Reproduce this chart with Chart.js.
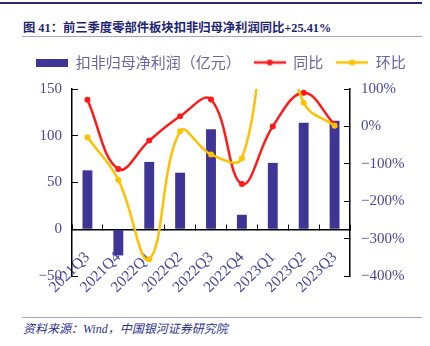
<!DOCTYPE html>
<html>
<head>
<meta charset="utf-8">
<script src="https://cdn.jsdelivr.net/npm/chart.js@4/dist/chart.umd.min.js"></script>
<style>
    html, body { margin: 0; padding: 0; background: #fff; }
    body { width: 430px; height: 346px; position: relative; overflow: hidden; }
    .topline { position: absolute; left: 0; top: 2px; width: 422px; height: 2px; background: #2a2a72; }
    .title { position: absolute; left: 23px; top: 18px; line-height: 16px; font: bold 12.3px "Liberation Serif", "Noto Sans CJK SC", serif; color: #1d2570; white-space: nowrap; }
    .rule { position: absolute; left: 22px; width: 400px; height: 1px; background: #a3a3d3; }
    .source { position: absolute; left: 23px; top: 319px; line-height: 16px; font: italic 12px "Liberation Serif", "Noto Sans CJK SC", serif; color: #2d318c; white-space: nowrap; }
    .chart-box { position: absolute; left: 0; top: 40px; width: 430px; height: 275px; }
</style>
</head>
<body>
<div class="topline"></div>
<div class="title">图 41：前三季度零部件板块扣非归母净利润同比+25.41%</div>
<div class="rule" style="top:36px"></div>
<div class="chart-box"><canvas id="profitChart"></canvas></div>
<div class="rule" style="top:317px"></div>
<div class="source">资料来源：Wind，中国银河证券研究院</div>

<script>
// données
const quarters = ['2021Q3', '2021Q4', '2022Q1', '2022Q2', '2022Q3', '2022Q4', '2023Q1', '2023Q2', '2023Q3'];
const profit = [63, -28, 72, 60.5, 107, 15.5, 71, 114, 116];   // 亿元
const yoy = [71, -114, -38, 27, 72, -154, 0, 90, 5];           // %
const qoq = [-29, -143, -355, -13, -75, -85, 363, 63, 2];      // %

const BAR = '#3f3596';
const RED = '#ff1a1a';
const GOLD = '#ffc000';
const TICK = '#4a479c';

function minus(v) {
    return String(v).replace('-', '\u2212');
}

// petites icônes pour la légende
function barIcon() {
    const c = document.createElement('canvas');
    c.width = 32; c.height = 8;
    const g = c.getContext('2d');
    g.fillStyle = BAR;
    g.fillRect(0, 0, 32, 8);
    return c;
}

function lineIcon(color) {
    const c = document.createElement('canvas');
    c.width = 32; c.height = 8;
    const g = c.getContext('2d');
    g.strokeStyle = color;
    g.lineWidth = 2.5;
    g.beginPath();
    g.moveTo(0, 4);
    g.lineTo(32, 4);
    g.stroke();
    g.fillStyle = color;
    g.beginPath();
    g.arc(16, 4, 3, 0, Math.PI * 2);
    g.fill();
    return c;
}

// un peu d'espace sous la légende, et légende légèrement décalée à droite
const legendGap = {
    id: 'legendGap',
    beforeInit(chart) {
        if (!chart.legend) return;
        const fit = chart.legend.fit;
        chart.legend.fit = function() {
            fit.call(this);
            this.height += 9;
        };
    },
    afterLayout(chart) {
        if (!chart.legend) return;
        chart.legend.left += 6;
        chart.legend.right += 6;
    }
};

const ctx = document.getElementById('profitChart').getContext('2d');
new Chart(ctx, {
    data: {
        labels: quarters,
        datasets: [{
            type: 'bar',
            label: '扣非归母净利润（亿元）',
            data: profit,
            backgroundColor: BAR,
            yAxisID: 'y',
            categoryPercentage: 1,
            barPercentage: 0.32,
            order: 2
        }, {
            type: 'line',
            label: '同比',
            data: yoy,
            borderColor: RED,
            backgroundColor: RED,
            borderWidth: 2.5,
            pointRadius: 3,
            pointBorderWidth: 0,
            tension: 0.4,
            yAxisID: 'y1',
            order: 1
        }, {
            type: 'line',
            label: '环比',
            data: qoq,
            borderColor: GOLD,
            backgroundColor: GOLD,
            borderWidth: 2.5,
            pointRadius: 3,
            pointBorderWidth: 0,
            tension: 0.4,
            yAxisID: 'y1',
            order: 0
        }]
    },
    options: {
        responsive: true,
        maintainAspectRatio: false,
        animation: false,
        layout: { padding: { top: 2, bottom: 39, left: 0, right: 0 } },
        plugins: {
            tooltip: { enabled: false },
            legend: {
                position: 'top',
                labels: {
                    usePointStyle: true,
                    pointStyleWidth: 32,
                    padding: 13,
                    color: '#6767a3',
                    font: { family: '"Noto Sans CJK SC", sans-serif', size: 15 },
                    generateLabels(chart) {
                        const icons = [barIcon(), lineIcon(RED), lineIcon(GOLD)];
                        return chart.data.datasets.map((ds, i) => ({
                            text: ds.label,
                            pointStyle: icons[i],
                            fillStyle: ds.backgroundColor,
                            strokeStyle: ds.backgroundColor,
                            lineWidth: 0,
                            fontColor: '#6767a3',
                            datasetIndex: i
                        }));
                    }
                }
            }
        },
        scales: {
            x: {
                position: { y: 0 },
                offset: true,
                grid: { drawOnChartArea: false, drawTicks: true, tickLength: -6, tickColor: '#000', offset: true },
                border: { display: true, color: '#000', width: 1.5 },
                ticks: {
                    autoSkip: false,
                    minRotation: 45,
                    maxRotation: 45,
                    padding: 25,
                    color: TICK,
                    font: { family: '"Liberation Serif", serif', size: 15.5 }
                }
            },
            y: {
                position: 'left',
                min: -50,
                max: 150,
                afterFit(scale) { scale.width = 72; },
                grid: { drawOnChartArea: false, drawTicks: true, tickLength: -6, tickColor: '#000' },
                border: { display: true, color: '#000', width: 1.5 },
                ticks: {
                    stepSize: 50,
                    padding: 16,
                    color: TICK,
                    font: { family: '"Liberation Serif", serif', size: 15 },
                    callback: v => minus(v)
                }
            },
            y1: {
                position: 'right',
                min: -400,
                max: 100,
                afterFit(scale) { scale.width = 80; },
                grid: { drawOnChartArea: false, drawTicks: true, tickLength: -6, tickColor: '#000' },
                border: { display: true, color: '#000', width: 1.5 },
                ticks: {
                    stepSize: 100,
                    padding: 17,
                    color: TICK,
                    font: { family: '"Liberation Serif", serif', size: 15 },
                    callback: v => minus(v) + '%'
                }
            }
        }
    },
    plugins: [legendGap]
});
</script>
</body>
</html>
